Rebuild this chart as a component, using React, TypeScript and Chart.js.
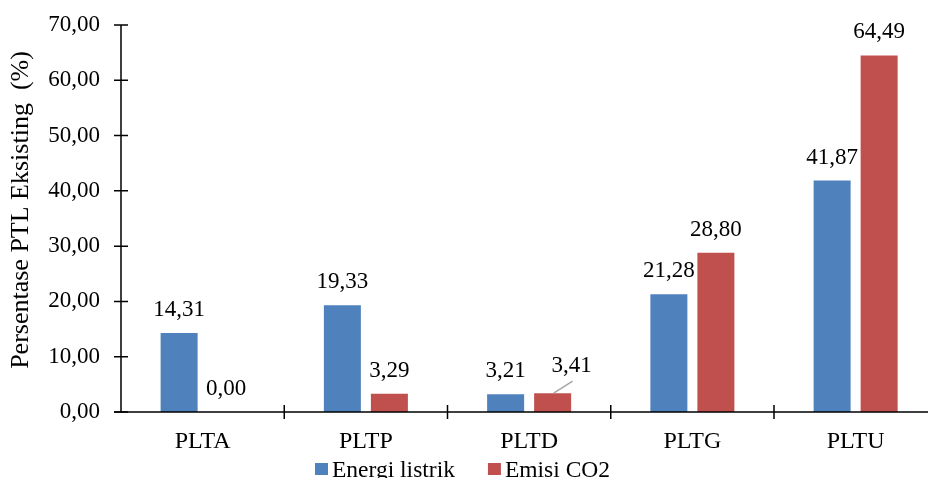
import React, { useEffect, useRef } from "react";
import { Chart, registerables } from "chart.js";

Chart.register(...registerables);

// ---- data ----
const categories = ["PLTA", "PLTP", "PLTD", "PLTG", "PLTU"];
const energiListrik = [14.31, 19.33, 3.21, 21.28, 41.87];
const emisiCO2 = [0.0, 3.29, 3.41, 28.8, 64.49];
const seriesLabels = ["Energi listrik", "Emisi CO2"];
const seriesColors = ["#4F81BD", "#C0504D"];
const yTitle = "Persentase PTL Eksisting  (%)";
const yMin = 0;
const yMax = 70;
const yStep = 10;

const FONT = "'Liberation Serif', 'Times New Roman', serif";
const fmt = (v: number) => v.toFixed(2).replace(".", ",");

const customDraw = {
  id: "customDraw",
  afterDatasetsDraw(chart: any) {
    const ctx: CanvasRenderingContext2D = chart.ctx;
    const { left, right, top, bottom } = chart.chartArea;
    const ys = chart.scales.y;
    ctx.save();

    // axes
    ctx.strokeStyle = "#000";
    ctx.lineWidth = 1.5;
    ctx.beginPath();
    ctx.moveTo(left, top);
    ctx.lineTo(left, bottom);
    ctx.moveTo(left - 7, bottom);
    ctx.lineTo(right, bottom);
    ctx.stroke();

    // y tick marks (crossing)
    ctx.beginPath();
    ys.ticks.forEach((t: any) => {
      const py = ys.getPixelForValue(t.value);
      ctx.moveTo(left - 7, py);
      ctx.lineTo(left + 7, py);
    });
    // x tick marks at category boundaries
    const n = categories.length;
    for (let i = 1; i <= n; i++) {
      const px = left + ((right - left) * i) / n;
      ctx.moveTo(px, bottom - 7);
      ctx.lineTo(px, bottom + 7);
    }
    ctx.stroke();

    // data labels
    ctx.fillStyle = "#000";
    ctx.font = `23px ${FONT}`;
    ctx.textAlign = "center";
    ctx.textBaseline = "alphabetic";
    chart.data.datasets.forEach((ds: any, di: number) => {
      const meta = chart.getDatasetMeta(di);
      meta.data.forEach((el: any, i: number) => {
        const txt = fmt(ds.data[i]);
        if (di === 1 && i === 2) {
          // label moved aside with a leader line
          const lx = el.x + 19;
          const ly = el.y - 21;
          ctx.save();
          ctx.strokeStyle = "#A6A6A6";
          ctx.lineWidth = 1.5;
          ctx.beginPath();
          ctx.moveTo(el.x + 1, el.y);
          ctx.lineTo(el.x + 20, el.y - 12);
          ctx.stroke();
          ctx.restore();
          ctx.fillText(txt, lx, ly);
        } else {
          ctx.fillText(txt, el.x, el.y - 17);
        }
      });
    });

    // y axis title
    ctx.save();
    ctx.font = `26px ${FONT}`;
    ctx.translate(28, 210);
    ctx.rotate(-Math.PI / 2);
    ctx.textAlign = "center";
    ctx.textBaseline = "alphabetic";
    ctx.fillText(yTitle, 0, 0);
    ctx.restore();

    // legend
    ctx.font = `23.5px ${FONT}`;
    ctx.textAlign = "left";
    let lx = 315;
    seriesLabels.forEach((lab, i) => {
      ctx.fillStyle = seriesColors[i];
      ctx.fillRect(lx, 463, 13, 12);
      ctx.fillStyle = "#000";
      ctx.fillText(lab, lx + 17, 477);
      lx += 17 + ctx.measureText(lab).width + 33;
    });

    ctx.restore();
  },
};

export default function App() {
  const ref = useRef<HTMLCanvasElement>(null);
  useEffect(() => {
    if (!ref.current) return;
    const chart = new Chart(ref.current, {
      type: "bar",
      data: {
        labels: categories,
        datasets: [
          {
            label: seriesLabels[0],
            data: energiListrik,
            backgroundColor: seriesColors[0],
            borderWidth: 0,
            categoryPercentage: 0.576,
            barPercentage: 0.787,
          },
          {
            label: seriesLabels[1],
            data: emisiCO2,
            backgroundColor: seriesColors[1],
            borderWidth: 0,
            categoryPercentage: 0.576,
            barPercentage: 0.787,
          },
        ],
      },
      options: {
        responsive: false,
        animation: false,
        layout: { padding: { top: 25, right: 2.75, left: 0, bottom: 0 } },
        plugins: { legend: { display: false }, tooltip: { enabled: false } },
        scales: {
          x: {
            grid: { display: false, drawTicks: false },
            border: { display: false },
            ticks: { color: "#000", font: { family: FONT, size: 24 }, padding: 15 },
            afterFit: (s: any) => {
              s.height = 66;
            },
          },
          y: {
            min: yMin,
            max: yMax,
            grid: { display: false, drawTicks: true, tickLength: 10 },
            border: { display: false },
            ticks: {
              stepSize: yStep,
              color: "#000",
              font: { family: FONT, size: 23 },
              padding: 11,
              callback: (v: any) => fmt(Number(v)),
            },
            afterFit: (s: any) => {
              s.width = 121;
            },
          },
        },
      },
      plugins: [customDraw],
    });
    return () => chart.destroy();
  }, []);
  return (
    <div
      style={{
        position: "fixed",
        left: 0,
        top: 0,
        width: 928,
        height: 478,
        overflow: "hidden",
        background: "#fff",
      }}
    >
      <canvas ref={ref} width={940} height={478} style={{ display: "block" }} />
    </div>
  );
}
